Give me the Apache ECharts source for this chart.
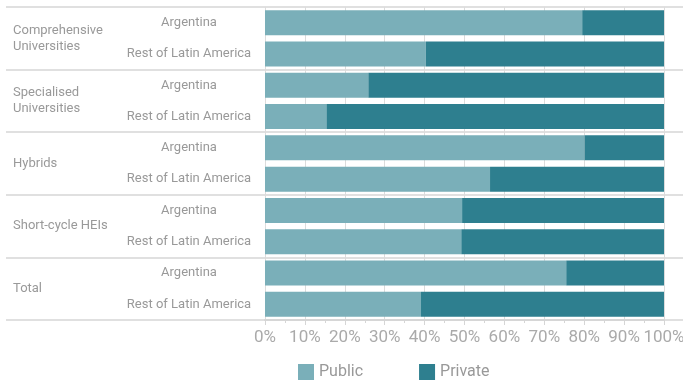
<!DOCTYPE html>
<html>
<head>
<meta charset="utf-8">
<script src="https://cdn.jsdelivr.net/npm/echarts@6/dist/echarts.min.js"></script>
<style>
  html, body { margin: 0; padding: 0; background: #fff; }
  #chart { width: 683px; height: 383px; }
</style>
</head>
<body>
<div id="chart"></div>
<script>
// groups of institutions, each with two rows
var groups = ['Comprehensive\nUniversities', 'Specialised\nUniversities', 'Hybrids', 'Short-cycle HEIs', 'Total'];
var rows = ['Argentina', 'Rest of Latin America', 'Argentina', 'Rest of Latin America',
            'Argentina', 'Rest of Latin America', 'Argentina', 'Rest of Latin America',
            'Argentina', 'Rest of Latin America'];
// share of enrolment in %
var publicShare  = [79.5, 40.3, 25.9, 15.4, 80.1, 56.4, 49.4, 49.2, 75.5, 39.1];
var privateShare = [20.5, 59.7, 74.1, 84.6, 19.9, 43.6, 50.6, 50.8, 24.5, 60.9];

var font = 'Roboto, "Noto Sans", sans-serif';
var chart = echarts.init(document.getElementById('chart'));
chart.setOption({
    animation: false,
    textStyle: { fontFamily: font },
    legend: {
        left: 293,
        top: 359,
        itemWidth: 16,
        itemHeight: 16,
        itemGap: 56,
        icon: 'rect',
        textStyle: { color: '#999', fontSize: 16, fontFamily: font },
        data: ['Public', 'Private']
    },
    grid: [
        { left: 265, right: 19, top: 7, bottom: 63, outerBoundsMode: 'none' },
        { left: 6, right: 0, top: 7, bottom: 63, outerBoundsMode: 'none' }
    ],
    xAxis: [
        {
            gridIndex: 0,
            type: 'value',
            min: 0,
            max: 100,
            interval: 10,
            axisLabel: { formatter: '{value}%', color: '#aaa', fontSize: 17, margin: 9, fontFamily: font },
            axisLine: { show: true, lineStyle: { color: '#d6d6d6', width: 2 } },
            axisTick: { show: true, length: 5, lineStyle: { color: '#d6d6d6' } },
            minorTick: { show: true, splitNumber: 2, length: 3, lineStyle: { color: '#d6d6d6' } },
            splitLine: { show: true, lineStyle: { color: '#dcdcdc', width: 1 } }
        },
        { gridIndex: 1, type: 'value', show: false }
    ],
    yAxis: [
        {
            gridIndex: 0,
            type: 'category',
            inverse: true,
            data: rows,
            axisLine: { show: false },
            axisTick: { show: false },
            axisLabel: { color: '#999', fontSize: 13, align: 'center', margin: 76, fontFamily: font }
        },
        {
            gridIndex: 1,
            type: 'category',
            inverse: true,
            data: groups,
            axisLine: { show: false },
            axisTick: { show: false },
            splitLine: { show: true, lineStyle: { color: '#e0e0e0', width: 2 } },
            axisLabel: { color: '#999', fontSize: 13, align: 'left', margin: -7, lineHeight: 16, fontFamily: font }
        }
    ],
    series: [
        {
            name: 'Public',
            type: 'bar',
            stack: 'share',
            barWidth: 25,
            itemStyle: { color: '#7aafb9' },
            data: publicShare
        },
        {
            name: 'Private',
            type: 'bar',
            stack: 'share',
            barWidth: 25,
            itemStyle: { color: '#2e7f8f' },
            data: privateShare
        }
    ]
});
</script>
</body>
</html>
